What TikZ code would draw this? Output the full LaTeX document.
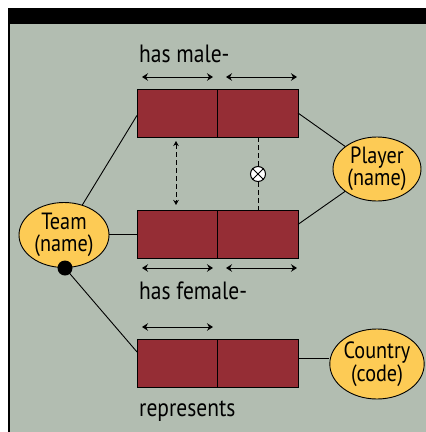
\documentclass[tikz,border=0pt]{standalone}
\usepackage{fontspec}
\setmainfont{PT Sans}[FakeStretch=0.86]
\usetikzlibrary{arrows.meta,calc,shapes.geometric}
\definecolor{panel}{HTML}{B2BDB1}
\definecolor{maroon}{HTML}{952D35}
\definecolor{gold}{HTML}{FDCB55}
\begin{document}
\begin{tikzpicture}[x=1pt,y=-1pt,
  cell/.style={draw=black,fill=maroon,line width=0.9pt,minimum width=80.5pt,minimum height=48pt,inner sep=0pt,outer sep=0pt},
  ent/.style={ellipse,draw=black,fill=gold,line width=0.9pt,inner sep=0pt,align=center,font=\fontsize{23.5}{22.5}\selectfont},
  role/.style={{Stealth[length=6pt,width=7.5pt,inset=2pt]}-{Stealth[length=6pt,width=7.5pt,inset=2pt]},line width=1pt},
  conn/.style={line width=0.9pt},
  dsh/.style={line width=1pt,dash pattern=on 5pt off 3pt},
  lab/.style={font=\fontsize{25}{26}\selectfont,anchor=base west,inner sep=0pt}]
\useasboundingbox (0,0) rectangle (426,432);
\fill[white] (0,0) rectangle (426,432);
\fill[panel] (8,24) rectangle (426,432);
\fill[black] (8,8) rectangle (426,24);
\draw[line width=1.6pt] (8.8,8) -- (8.8,432);
% boxes
\node[cell,anchor=north west] (m1) at (137,89) {};
\node[cell,anchor=north west] (m2) at (217.5,89) {};
\node[cell,anchor=north west] (f1) at (137,210) {};
\node[cell,anchor=north west] (f2) at (217.5,210) {};
\node[cell,anchor=north west] (r1) at (137,339) {};
\node[cell,anchor=north west] (r2) at (217.5,339) {};
% entities
\node[ent,minimum width=90pt,minimum height=65pt] (team) at (64,235) {Team\\(name)};
\node[ent,minimum width=88pt,minimum height=64pt] (player) at (377,169) {Player\\(name)};
\node[ent,minimum width=89pt,minimum height=70pt] (country) at (377,364) {Country\\(code)};
% connectors
\draw[conn] (team) -- ($(m1.north west)!0.55!(m1.south west)$);
\draw[conn] (team.east |- f1.west) -- (f1.west);
\coordinate (dotc) at (65,268);
\draw[conn] (dotc) -- ($(r1.north west)!0.27!(r1.south west)$);
\fill (dotc) circle (7.5pt);
\draw[conn] (m2.east) -- (player);
\draw[conn] ($(f2.north east)!0.3!(f2.south east)$) -- (player);
\coordinate (rc) at ($(r2.north east)!0.4!(r2.south east)$);
\draw[conn] (rc) -- (country.west |- rc);
% role arrows
\coordinate (a1) at (142,77); \coordinate (a2) at (213,77);
\coordinate (a3) at (226,77); \coordinate (a4) at (297,77);
\draw[role] (a1) -- (a2);
\draw[role] (a3) -- (a4);
\coordinate (b1) at (142,268); \coordinate (b2) at (213,268);
\coordinate (b3) at (226,268); \coordinate (b4) at (297,268);
\draw[role] (b1) -- (b2);
\draw[role] (b3) -- (b4);
\coordinate (c1) at (142,327); \coordinate (c2) at (213,327);
\draw[role] (c1) -- (c2);
% constraints
\coordinate (s1) at (176,141); \coordinate (s2) at (176,205);
\draw[dsh,{Stealth[length=5pt,width=5.5pt,inset=1.5pt]}-{Stealth[length=5pt,width=5.5pt,inset=1.5pt]}] (s1) -- (s2);
\node[circle,draw=black,fill=white,line width=1pt,minimum size=15pt,inner sep=0pt] (x) at (258,174) {};
\draw[line width=1pt] (x.45) -- (x.225) (x.135) -- (x.315);
\coordinate (t1) at (258,137); \coordinate (t2) at (258,210);
\draw[dsh] (t1) -- (x.north);
\draw[dsh] (x.south) -- (t2);
% labels
\node[lab] (lm) at (139,62) {has male-};
\node[lab] (lf) at (139,299) {has female-};
\node[lab] (lr) at (139,416) {represents};
\end{tikzpicture}
\end{document}
